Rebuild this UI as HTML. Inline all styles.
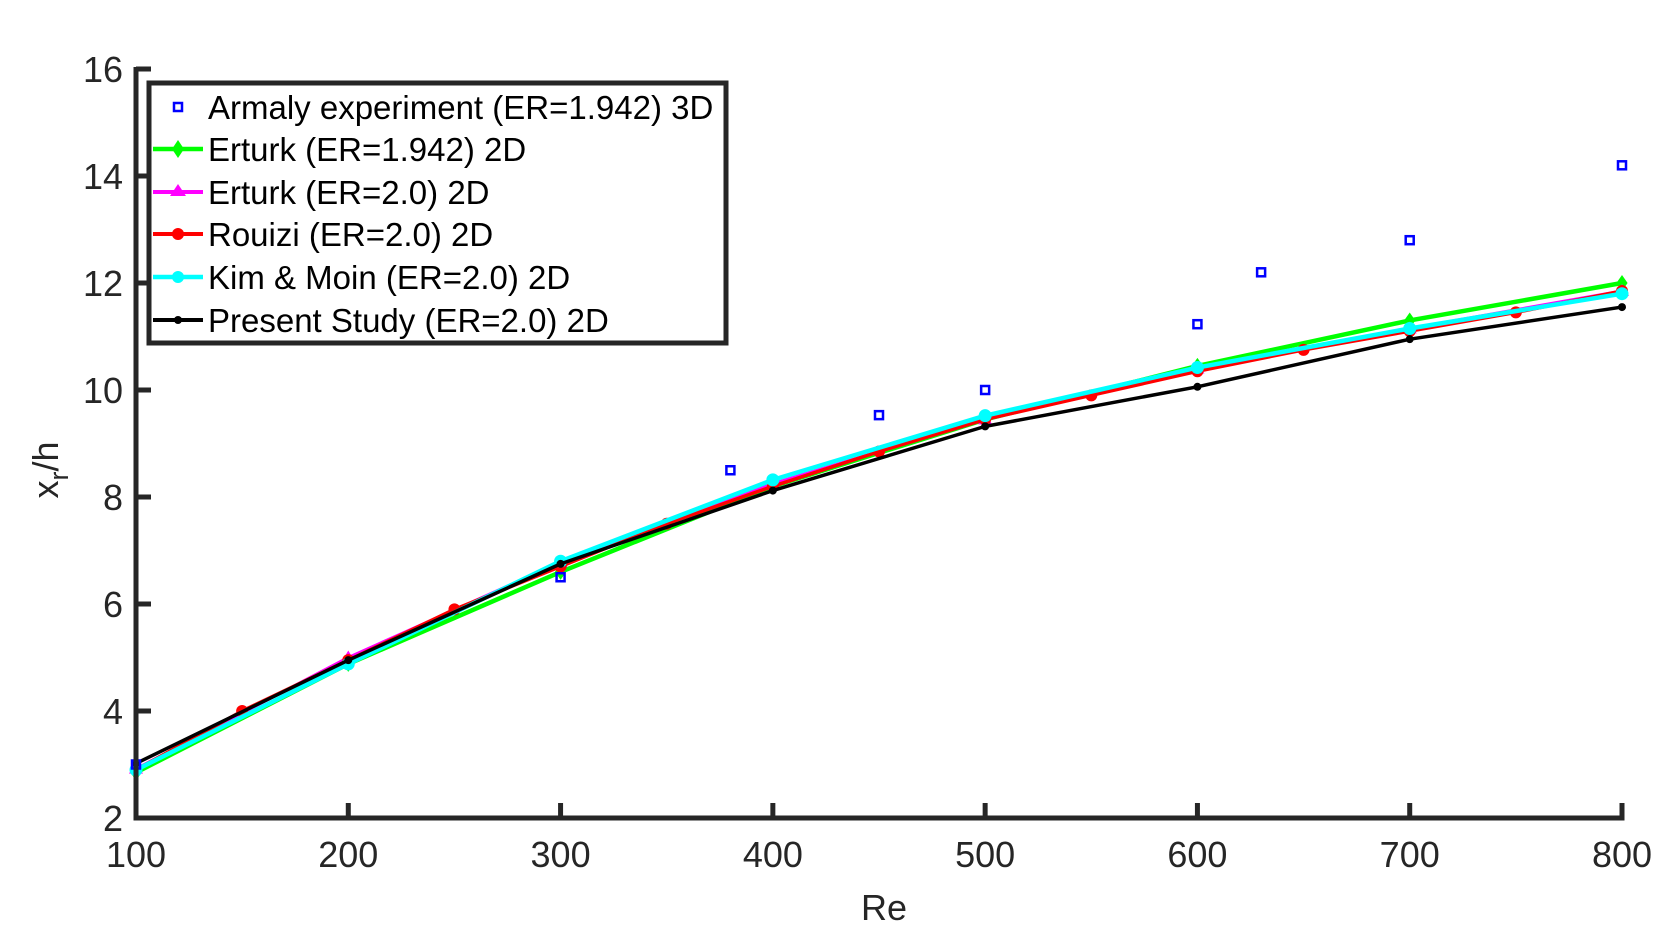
<!DOCTYPE html>
<html><head><meta charset="utf-8"><style>
html,body{margin:0;padding:0;background:#fff;}
svg{display:block;font-family:"Liberation Sans",sans-serif;}
</style></head><body>
<svg id="chart" width="1677" height="926" viewBox="0 0 1677 926"></svg>
<script>
const reAll = [100,150,200,250,300,350,400,450,500,550,600,650,700,750,800];
const re100 = [100,200,300,400,500,600,700,800];
const armalyRe = [100,300,380,450,500,600,630,700,800];
const armalyVals = [3.0,6.5,8.5,9.53,10.0,11.23,12.2,12.8,14.2];
const erturk1942Vals = [2.85,4.88,6.6,8.2,9.45,10.45,11.3,12.0];
const erturk2Vals = [2.92,5.0,6.78,8.25,9.45,10.4,11.15,11.85];
const rouiziVals = [2.9,4.0,4.95,5.9,6.7,7.5,8.2,8.85,9.45,9.9,10.35,10.75,11.1,11.45,11.85];
const kimVals = [2.9,4.88,6.8,8.32,9.52,10.42,11.15,11.8];
const presentVals = [3.02,4.95,6.75,8.12,9.32,10.06,10.95,11.55];
const xTicks = [100,200,300,400,500,600,700,800];
const yTicks = [2,4,6,8,10,12,14,16];

const NS="http://www.w3.org/2000/svg";
const svg=document.getElementById('chart');
const X0=136,X1=1622,Y0=818,Y1=69;
function xs(v){return X0+(v-100)/700*(X1-X0);}
function ys(v){return Y0-(v-2)/14*(Y0-Y1);}
function mk(tag,attrs,parent){const e=document.createElementNS(NS,tag);for(const k in attrs)e.setAttribute(k,attrs[k]);(parent||svg).appendChild(e);return e;}

function series(name,xsArr,vals,color,w,marker,msize){
  const g=mk('g',{});
  
  
  const pts=xsArr.map((r,i)=>xs(r)+','+ys(vals[i])).join(' ');
  const pl=mk('polyline',{points:pts,fill:'none',stroke:color,'stroke-width':w,'stroke-linejoin':'round'},g);
  
  
  xsArr.forEach((r,i)=>drawMarker(g,marker,xs(r),ys(vals[i]),color,msize,name));
}
function drawMarker(g,type,x,y,color,s,name){
  let e;
  if(type==='diamond')e=mk('polygon',{points:`${x},${y-s} ${x+s*0.7},${y} ${x},${y+s} ${x-s*0.7},${y}`,fill:color},g);
  else if(type==='tri')e=mk('polygon',{points:`${x},${y-s} ${x+s},${y+s*0.7} ${x-s},${y+s*0.7}`,fill:color},g);
  else if(type==='circle')e=mk('circle',{cx:x,cy:y,r:s,fill:color},g);
  else if(type==='square')e=mk('rect',{x:x-4,y:y-4,width:8,height:8,fill:'none',stroke:color,'stroke-width':2.5},g);
  
  
}
series('erturk-1942-series',re100,erturk1942Vals,'#00ff00',4.5,'diamond',8);
series('erturk-2-series',re100,erturk2Vals,'#ff00ff',3,'tri',7);
series('rouizi-series',reAll,rouiziVals,'#ff0000',3.5,'circle',6);
series('kim-moin-series',re100,kimVals,'#00ffff',4.5,'circle',6.5);
series('present-study-series',re100,presentVals,'#000000',3.5,'circle',4);
(function(){const g=mk('g',{});


armalyRe.forEach((r,i)=>drawMarker(g,'square',xs(r),ys(armalyVals[i]),'#0000ff',0,'armaly'));})();

const ax=mk('g',{});


mk('line',{x1:X0,y1:Y1-2,x2:X0,y2:Y0+2.5,stroke:'#262626','stroke-width':5},ax);
mk('line',{x1:X0-2.5,y1:Y0,x2:X1+2.5,y2:Y0,stroke:'#262626','stroke-width':5},ax);
xTicks.forEach(t=>{
  mk('line',{x1:xs(t),y1:Y0,x2:xs(t),y2:Y0-15,stroke:'#262626','stroke-width':5},ax);
  const tx=mk('text',{x:xs(t),y:Y0+49,'font-size':36,'text-anchor':'middle',fill:'#262626'},ax);
  tx.textContent=t;
  
  
});
yTicks.forEach(t=>{
  mk('line',{x1:X0,y1:ys(t),x2:X0+15,y2:ys(t),stroke:'#262626','stroke-width':5},ax);
  const tx=mk('text',{x:X0-13,y:ys(t)+13,'font-size':36,'text-anchor':'end',fill:'#262626'},ax);
  tx.textContent=t;
  
  
});
</script>
<script>
(function(){
const s=document.getElementById('chart');
s.insertAdjacentHTML('beforeend',`
<text x="884" y="920" font-size="36" text-anchor="middle" fill="#262626">Re</text>
<text transform="translate(58,470) rotate(-90)" font-size="36" text-anchor="middle" fill="#262626">x<tspan font-size="27" dy="10">r</tspan><tspan dy="-10">/h</tspan></text>
<g>
<rect x="149" y="83" width="577" height="260" fill="#fff" stroke="#262626" stroke-width="5"/>
<g><rect x="174" y="103" width="8" height="8" fill="none" stroke="#0000ff" stroke-width="2.5"/><text x="208" y="119" font-size="33" fill="#000">Armaly experiment (ER=1.942) 3D</text></g>
<g><line x1="153" y1="149" x2="203" y2="149" stroke="#00ff00" stroke-width="4.5"/><polygon points="178,140 184,149 178,158 172,149" fill="#00ff00"/><text x="208" y="161" font-size="33" fill="#000">Erturk (ER=1.942) 2D</text></g>
<g><line x1="153" y1="192" x2="203" y2="192" stroke="#ff00ff" stroke-width="4"/><polygon points="178,184 186,196 170,196" fill="#ff00ff"/><text x="208" y="204" font-size="33" fill="#000">Erturk (ER=2.0) 2D</text></g>
<g><line x1="153" y1="234" x2="203" y2="234" stroke="#ff0000" stroke-width="4"/><circle cx="178" cy="234" r="6" fill="#ff0000"/><text x="208" y="246" font-size="33" fill="#000">Rouizi (ER=2.0) 2D</text></g>
<g><line x1="153" y1="277" x2="203" y2="277" stroke="#00ffff" stroke-width="4.5"/><circle cx="178" cy="277" r="6" fill="#00ffff"/><text x="208" y="289" font-size="33" fill="#000">Kim &amp; Moin (ER=2.0) 2D</text></g>
<g><line x1="153" y1="320" x2="203" y2="320" stroke="#000" stroke-width="4"/><circle cx="178" cy="320" r="4" fill="#000"/><text x="208" y="332" font-size="33" fill="#000">Present Study (ER=2.0) 2D</text></g>
</g>`);
})();
</script>
</body></html>
